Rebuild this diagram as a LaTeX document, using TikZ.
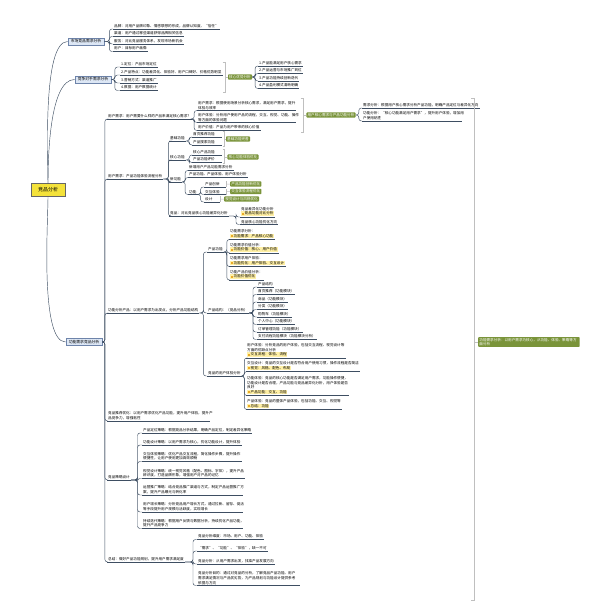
\documentclass[tikz,border=0pt]{standalone}
\usepackage{fontspec}
\setmainfont{Noto Sans CJK SC}
\usepackage{xcolor}
\usepackage{tikz}
\usetikzlibrary{positioning}

\definecolor{linkc}{RGB}{62,78,98}
\definecolor{leafgreen}{RGB}{122,148,58}
\definecolor{hlyellow}{RGB}{255,240,165}
\definecolor{rootyellow}{RGB}{244,226,58}
\definecolor{topicblue}{RGB}{221,231,245}
\definecolor{topicedge}{RGB}{110,132,170}
\definecolor{iconorange}{RGB}{235,170,40}
\newcommand\mmfont{\fontsize{3.6}{4.6}\selectfont}
\newcommand\hlbox[1]{{\setlength{\fboxsep}{0.7pt}\colorbox{hlyellow}{\textcolor{iconorange}{\rule{2.2pt}{2.2pt}}\,#1}}}

\begin{document}
\begin{tikzpicture}[
  x=1pt, y=-1pt,
  link/.style={draw=linkc, line width=0.45pt, rounded corners=2.5pt},
  sumline/.style={draw=black!25, line width=0.5pt},
  leaf/.style={anchor=south west, inner xsep=1pt, inner ysep=1pt, font=\mmfont, align=left,
    append after command={(\tikzlastnode.south west) edge[draw=linkc, line width=0.45pt] (\tikzlastnode.south east)}},
  topic/.style={draw=topicedge, fill=topicblue, font=\fontsize{3.8}{4.6}\selectfont, inner xsep=3pt, inner ysep=1.6pt},
  rootbox/.style={draw=black!60, fill=rootyellow, font=\fontsize{5}{6}\selectfont, minimum width=34pt, minimum height=13pt},
  greenbox/.style={fill=leafgreen, text=white, rounded corners=0.8pt, font=\mmfont, inner xsep=1.2pt, inner ysep=1pt, align=left}
]
  \useasboundingbox (0,0) rectangle (594,613);

  \node[rootbox] (root) at (48,190) {竞品分析};
  \node[topic] (a) at (86,41.5) {市场竞品需求分析};
  \node[topic] (b) at (93,79.5) {竞争对手需求分析};
  \node[topic] (c) at (84,342) {功能需求竞品分析};

  \node[leaf] (a1) at (113,29) {品牌：对用户品牌印象、情感联想的形成，品牌认知度、“信任”};
  \node[leaf] (a2) at (113,36.5) {渠道：用户通过哪些渠道获得品牌相关信息};
  \node[leaf] (a3) at (113,44) {服务：对比竞品服务体系，发现市场新机会};
  \node[leaf] (a4) at (113,51.5) {用户：目标用户画像};

  \node[leaf] (b1) at (120,67) {1.定位：产品市场定位};
  \node[leaf] (b2) at (120,75) {2.产品特点：功能差异化、体验好、用户口碑好、价格优势明显};
  \node[leaf] (b3) at (120,83) {3.营销方式：渠道推广};
  \node[leaf] (b4) at (120,90.5) {4.数据：用户数据统计};
  \coordinate (s1t) at (225,62);
  \coordinate (s1b) at (225,92);
  \node[greenbox] (g1) at (240,77) {核心优势分析};
  \node[leaf] (g1a) at (258,66) {1.产品能满足用户核心需求};
  \node[leaf] (g1b) at (258,73.5) {2.产品运营与市场推广到位};
  \node[leaf] (g1c) at (258,81) {3.产品功能持续创新迭代};
  \node[leaf] (g1d) at (258,88.5) {4.产品盈利模式清晰明确};

  \node[leaf] (c1) at (107,119) {用户需求：用户需要什么样的产品来满足核心需求？};
  \node[leaf] (c2) at (107,179) {用户需求：产品功能体验流程分析};
  \node[leaf] (c3) at (107,313) {功能分析产品：以用户需求为出发点，分析产品功能结构};
  \node[leaf, text width=101pt] (c4) at (107,421) {竞品推荐优化：以用户需求优化产品功能，提升用户体验，提升产\\品竞争力，增强粘性};
  \node[leaf] (c5) at (107,480) {竞品策略设计};
  \node[leaf] (c6) at (107,562) {总结：做好产品功能规划，提升用户需求满足度};

  \node[leaf, text width=97pt] (c1a) at (197,110.5) {用户需求：根据使用场景分析核心需求，满足用户需求，提升\\体验与效率};
  \node[leaf, text width=97pt] (c1b) at (197,122.5) {用户体验：分析用户使用产品的流程，交互、视觉、功能、操作\\等方面的体验问题};
  \node[leaf] (c1c) at (197,130.5) {用户价值：产品为用户带来的核心价值};
  \coordinate (s2t) at (303,98);
  \coordinate (s2b) at (303,132);
  \node[greenbox] (g2) at (331,115) {用户核心需求与产品功能分析};
  \node[leaf] (g2a) at (362,108) {需求分析：根据用户核心需求分析产品功能，明确产品定位与差异化方向};
  \node[leaf, text width=98pt] (g2b) at (362,121) {功能分析：“核心功能满足用户需求”，提升用户体验，增加用\\户使用粘性};

  \node[leaf] (c2a) at (169,141) {基础功能};
  \node[leaf] (c2b) at (169,160) {核心功能};
  \node[leaf] (c2c) at (169,182) {新功能};
  \node[leaf] (c2d) at (169,216) {竞品：对比竞品核心功能差异化分析};
  \node[leaf, text width=28pt] (c2a1) at (192,137) {首页推荐功能};
  \node[leaf, text width=28pt] (c2a2) at (192,145) {产品搜索功能};
  \coordinate (s3t) at (224,131.5);
  \coordinate (s3b) at (224,146);
  \node[greenbox] (g3) at (238,139) {基础功能完善};
  \node[leaf, text width=28pt] (c2b1) at (192,155) {核心产品功能};
  \node[leaf, text width=28pt] (c2b2) at (192,162.5) {产品功能评价};
  \coordinate (s4t) at (224,149);
  \coordinate (s4b) at (224,163.5);
  \node[greenbox] (g4) at (243,157) {核心功能体验优化};
  \node[leaf] (c2c1) at (188,170.5) {新增用户产品功能需求分析};
  \node[leaf] (c2c2) at (188,177.5) {产品功能、产品体验、用户体验分析};
  \node[leaf] (c2c3) at (188,194.5) {功能};
  \node[leaf, text width=20pt] (c2c3a) at (204,187) {产品创新};
  \node[leaf, text width=20pt] (c2c3b) at (204,194.5) {交互体验};
  \node[leaf, text width=14pt] (c2c3c) at (204,202) {设计};
  \node[greenbox, anchor=west] (g5) at (230,184) {产品功能创新优化};
  \node[greenbox, anchor=west] (g6) at (230,191.5) {交互体验流程优化};
  \node[greenbox, anchor=west] (g7) at (224,199) {视觉设计与风格优化};
  \node[leaf] (c2d1) at (240,217) {竞品差异化功能分析\\\hlbox{竞品功能对比分析}};
  \node[leaf] (c2d2) at (240,224.5) {竞品核心功能优化方向};

  \node[leaf] (c3a) at (207,252) {产品功能};
  \node[leaf] (c3b) at (207,313) {产品结构：（竞品分析）};
  \node[leaf] (c3c) at (207,376) {竞品的用户体验分析};
  \node[leaf] (p1) at (229,239.5) {功能需求分析：\\\hlbox{功能需求：产品核心功能}};
  \node[leaf] (p2) at (229,253) {功能需求价值分析：\\\hlbox{功能价值：核心、用户价值}};
  \node[leaf] (p3) at (229,266.5) {功能需求用户体验：\\\hlbox{功能优化：用户体验、交互设计}};
  \node[leaf] (p4) at (229,280) {功能产品价值分析：\\\hlbox{功能价值优化}};
  \node[leaf] (c3b1) at (257,287) {产品结构};
  \node[leaf] (c3b2) at (257,294.5) {首页推荐（功能模块）};
  \node[leaf] (c3b3) at (257,302) {商品（功能模块）};
  \node[leaf] (c3b4) at (257,309.5) {分类（功能模块）};
  \node[leaf] (c3b5) at (257,317) {购物车（功能模块）};
  \node[leaf] (c3b6) at (257,324.5) {个人中心（功能模块）};
  \node[leaf] (c3b7) at (257,332) {订单管理功能（功能模块）};
  \node[leaf] (c3b8) at (257,339.5) {支付流程功能模块（功能模块分析）};
  \node[leaf] (u1) at (246,358) {用户体验：分析竞品的用户体验，包括交互流程、视觉设计等\\方面的优缺点分析\\\hlbox{交互流程：体验、流程}};
  \node[leaf] (u2) at (246,371.5) {交互设计：竞品的交互设计是否符合用户使用习惯，操作流程是否简洁\\\hlbox{视觉：风格、配色、布局}};
  \node[leaf] (u3) at (246,395.5) {功能体验：竞品的核心功能是否满足用户需求，功能操作便捷，\\功能设计是否合理，产品功能与竞品差异化分析，用户体验是否\\良好\\\hlbox{产品功能：交互、功能}};
  \node[leaf] (u4) at (246,409.5) {产品体验：竞品的整体产品体验，包括功能、交互、视觉等\\\hlbox{总结：功能}};

  \node[leaf] (v1) at (142,433) {产品定位策略：根据竞品分析结果，明确产品定位，制定差异化策略};
  \node[leaf] (v2) at (142,445) {功能设计策略：以用户需求为核心，优化功能设计，提升体验};
  \node[leaf, text width=98pt] (v3) at (142,461.5) {交互体验策略：优化产品交互流程，简化操作步骤，提升操作\\便捷性，让用户使用更加高效顺畅};
  \node[leaf, text width=101pt] (v4) at (142,478.5) {视觉设计策略：统一视觉风格（配色、图标、字体），提升产品\\辨识度，打造品牌形象，增强用户对产品的记忆};
  \node[leaf, text width=99pt] (v5) at (142,495) {运营推广策略：结合竞品推广渠道与方式，制定产品运营推广方\\案，提升产品曝光与转化率};
  \node[leaf, text width=99pt] (v6) at (142,512) {用户增长策略：分析竞品用户增长方式，通过拉新、留存、促活\\等手段提升用户规模与活跃度，实现增长};
  \node[leaf, text width=99pt] (v7) at (142,528.5) {持续迭代策略：根据用户反馈与数据分析，持续优化产品功能，\\提升产品竞争力};

  \node[leaf] (w1) at (197,539.5) {竞品分析维度：市场、用户、功能、体验};
  \node[leaf] (w2) at (197,551) {“需求”、“功能”、“体验”，缺一不可};
  \node[leaf] (w3) at (197,564) {竞品分析：从用户需求出发，找准产品发展方向};
  \node[leaf, text width=101pt] (w4) at (197,585.5) {竞品分析目的：通过对竞品的分析，了解竞品产品功能、用户\\需求满足情况与产品优劣势，为产品规划与功能设计提供参考\\依据与方向};

  \coordinate (s8t) at (474,98);
  \coordinate (s8b) at (474,600);
  \node[greenbox, anchor=west, text width=99pt] (g8) at (478,342) {功能需求分析：以用户需求为核心，从功能、体验、策略等方\\面分析};

  \draw[link] (root.north) to[out=90, in=180, looseness=0.45] (a.west);
  \draw[link] (root.north) to[out=90, in=180, looseness=0.6] (b.west);
  \draw[link] (root.south) to[out=-90, in=180, looseness=0.45] (c.west);

  \draw[link] (a.east) -- ++(5,0) |- (a1.south west);
  \draw[link] (a.east) -- ++(5,0) |- (a2.south west);
  \draw[link] (a.east) -- ++(5,0) |- (a3.south west);
  \draw[link] (a.east) -- ++(5,0) |- (a4.south west);

  \draw[link] (b.east) -- ++(3.5,0) |- (b1.south west);
  \draw[link] (b.east) -- ++(3.5,0) |- (b2.south west);
  \draw[link] (b.east) -- ++(3.5,0) |- (b3.south west);
  \draw[link] (b.east) -- ++(3.5,0) |- (b4.south west);
  \draw[sumline] ([xshift=-2.5pt]s1t) -- (s1t) -- (s1b) -- ([xshift=-2.5pt]s1b);
  \draw[sumline] (s1t |- g1.west) -- (g1.west);
  \draw[link] (g1.east) -- ++(3,0) |- (g1a.south west);
  \draw[link] (g1.east) -- ++(3,0) |- (g1b.south west);
  \draw[link] (g1.east) -- ++(3,0) |- (g1c.south west);
  \draw[link] (g1.east) -- ++(3,0) |- (g1d.south west);

  \draw[link] (c.east) -- ++(2.5,0) |- (c1.south west);
  \draw[link] (c.east) -- ++(2.5,0) |- (c2.south west);
  \draw[link] (c.east) -- ++(2.5,0) |- (c3.south west);
  \draw[link] (c.east) -- ++(2.5,0) |- (c4.south west);
  \draw[link] (c.east) -- ++(2.5,0) |- (c5.south west);
  \draw[link] (c.east) -- ++(2.5,0) |- (c6.south west);

  \draw[link] (c1.south east) -- ++(2,0) |- (c1a.south west);
  \draw[link] (c1.south east) -- ++(2,0) |- (c1b.south west);
  \draw[link] (c1.south east) -- ++(2,0) |- (c1c.south west);
  \draw[sumline] ([xshift=-2.5pt]s2t) -- (s2t) -- (s2b) -- ([xshift=-2.5pt]s2b);
  \draw[sumline] (s2t |- g2.west) -- (g2.west);
  \draw[link] (g2.east) -- ++(3,0) |- (g2a.south west);
  \draw[link] (g2.east) -- ++(3,0) |- (g2b.south west);

  \draw[link] (c2.south east) -- ++(5,0) |- (c2a.south west);
  \draw[link] (c2.south east) -- ++(5,0) |- (c2b.south west);
  \draw[link] (c2.south east) -- ++(5,0) |- (c2c.south west);
  \draw[link] (c2.south east) -- ++(5,0) |- (c2d.south west);
  \draw[link] (c2a.south east) -- ++(3.5,0) |- (c2a1.south west);
  \draw[link] (c2a.south east) -- ++(3.5,0) |- (c2a2.south west);
  \draw[sumline] ([xshift=-1.5pt]s3t) -- (s3t) -- (s3b) -- ([xshift=-1.5pt]s3b);
  \draw[sumline] (s3t |- g3.west) -- (g3.west);
  \draw[link] (c2b.south east) -- ++(3.5,0) |- (c2b1.south west);
  \draw[link] (c2b.south east) -- ++(3.5,0) |- (c2b2.south west);
  \draw[sumline] ([xshift=-1.5pt]s4t) -- (s4t) -- (s4b) -- ([xshift=-1.5pt]s4b);
  \draw[sumline] (s4t |- g4.west) -- (g4.west);
  \draw[link] (c2c.south east) -- ++(3,0) |- (c2c1.south west);
  \draw[link] (c2c.south east) -- ++(3,0) |- (c2c2.south west);
  \draw[link] (c2c.south east) -- ++(3,0) |- (c2c3.south west);
  \draw[link] (c2c3.south east) -- ++(3,0) |- (c2c3a.south west);
  \draw[link] (c2c3.south east) -- ++(3,0) |- (c2c3b.south west);
  \draw[link] (c2c3.south east) -- ++(3,0) |- (c2c3c.south west);
  \draw[sumline] (c2c3a.north east) -- (c2c3a.south east);
  \draw[sumline] (c2c3a.east) -- (g5.west);
  \draw[sumline] (c2c3b.north east) -- (c2c3b.south east);
  \draw[sumline] (c2c3b.east) -- (g6.west);
  \draw[sumline] (c2c3c.north east) -- (c2c3c.south east);
  \draw[sumline] (c2c3c.east) -- (g7.west);
  \draw[link] (c2d.south east) -- ++(7,0) |- (c2d1.south west);
  \draw[link] (c2d.south east) -- ++(7,0) |- (c2d2.south west);

  \draw[link] (c3.south east) -- ++(4,0) |- (c3a.south west);
  \draw[link] (c3.south east) -- ++(4,0) |- (c3b.south west);
  \draw[link] (c3.south east) -- ++(4,0) |- (c3c.south west);
  \draw[link] (c3a.south east) -- ++(3,0) |- (p1.south west);
  \draw[link] (c3a.south east) -- ++(3,0) |- (p2.south west);
  \draw[link] (c3a.south east) -- ++(3,0) |- (p3.south west);
  \draw[link] (c3a.south east) -- ++(3,0) |- (p4.south west);
  \draw[link] (c3b.south east) -- ++(4,0) |- (c3b1.south west);
  \draw[link] (c3b.south east) -- ++(4,0) |- (c3b2.south west);
  \draw[link] (c3b.south east) -- ++(4,0) |- (c3b3.south west);
  \draw[link] (c3b.south east) -- ++(4,0) |- (c3b4.south west);
  \draw[link] (c3b.south east) -- ++(4,0) |- (c3b5.south west);
  \draw[link] (c3b.south east) -- ++(4,0) |- (c3b6.south west);
  \draw[link] (c3b.south east) -- ++(4,0) |- (c3b7.south west);
  \draw[link] (c3b.south east) -- ++(4,0) |- (c3b8.south west);
  \draw[link] (c3c.south east) -- ++(2.5,0) |- (u1.south west);
  \draw[link] (c3c.south east) -- ++(2.5,0) |- (u2.south west);
  \draw[link] (c3c.south east) -- ++(2.5,0) |- (u3.south west);
  \draw[link] (c3c.south east) -- ++(2.5,0) |- (u4.south west);

  \draw[link] (c5.south east) -- ++(6.5,0) |- (v1.south west);
  \draw[link] (c5.south east) -- ++(6.5,0) |- (v2.south west);
  \draw[link] (c5.south east) -- ++(6.5,0) |- (v3.south west);
  \draw[link] (c5.south east) -- ++(6.5,0) |- (v4.south west);
  \draw[link] (c5.south east) -- ++(6.5,0) |- (v5.south west);
  \draw[link] (c5.south east) -- ++(6.5,0) |- (v6.south west);
  \draw[link] (c5.south east) -- ++(6.5,0) |- (v7.south west);

  \draw[link] (c6.south east) -- ++(8,0) |- (w1.south west);
  \draw[link] (c6.south east) -- ++(8,0) |- (w2.south west);
  \draw[link] (c6.south east) -- ++(8,0) |- (w3.south west);
  \draw[link] (c6.south east) -- ++(8,0) |- (w4.south west);

  \draw[sumline] ([xshift=-3pt]s8t) -- (s8t) -- (s8b) -- ([xshift=-3pt]s8b);
  \draw[sumline] (s8t |- g8.west) -- (g8.west);
\end{tikzpicture}
\end{document}
